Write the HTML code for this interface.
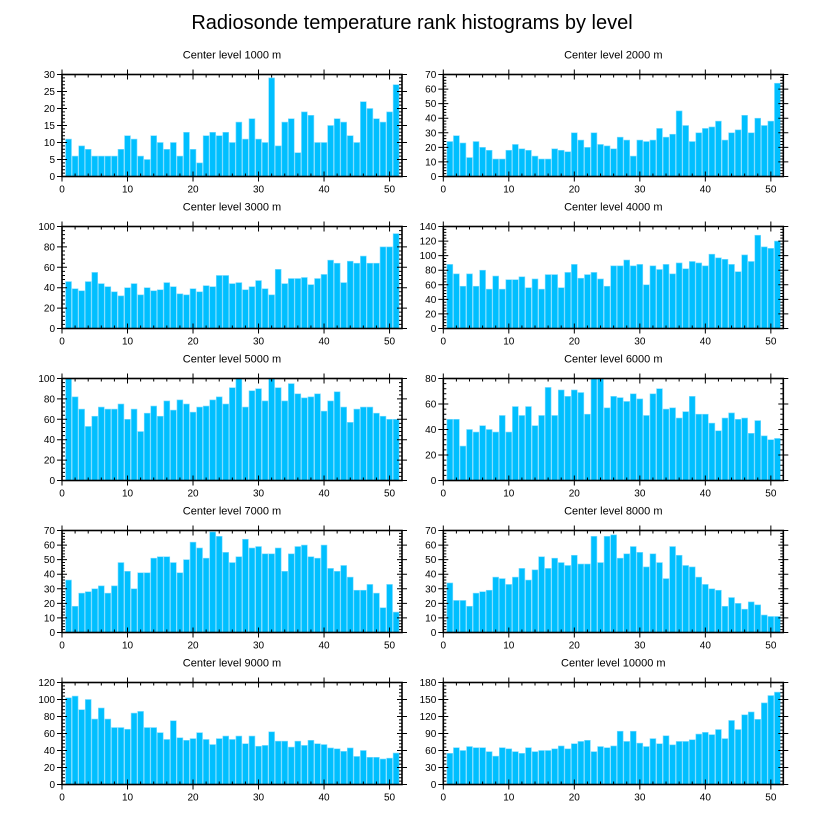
<!DOCTYPE html>
<html><head><meta charset="utf-8"><style>
body{margin:0;background:#fff;}
svg{display:block;font-family:"Liberation Sans",sans-serif;}
</style></head><body>
<svg id="chart" width="824" height="824"></svg>
<script>
const levels = ["1000","2000","3000","4000","5000","6000","7000","8000","9000","10000"];
const yMaxes = [30,70,100,140,100,80,70,70,120,180];
const ySteps = [5,10,20,20,20,20,10,10,20,30];
const xTicks = [0,10,20,30,40,50];
const h1000 = [11,6,9,8,6,6,6,6,8,12,11,6,5,12,10,8,10,6,13,8,4,12,13,12,13,10,16,11,17,11,10,29,9,16,17,7,19,18,10,10,15,17,16,12,10,22,20,17,16,19,27];
const h2000 = [24,28,23,13,24,20,18,12,12,18,22,19,18,14,12,12,19,18,17,30,25,20,30,22,21,19,27,25,14,25,24,25,33,27,29,45,35,24,30,33,34,38,25,30,32,42,30,40,35,38,64];
const h3000 = [46,39,37,46,55,44,41,36,32,40,44,33,40,37,38,45,41,34,33,39,36,42,41,52,52,44,45,38,41,47,39,33,58,44,49,49,50,43,49,53,67,64,45,66,64,71,64,64,80,80,93];
const h4000 = [88,75,58,75,58,80,54,72,54,67,67,71,56,68,54,74,74,56,77,88,69,74,77,68,58,86,86,94,86,88,60,86,81,88,75,90,82,92,90,86,102,97,95,88,78,101,92,128,112,110,120];
const h5000 = [100,82,70,53,63,72,70,70,75,60,70,48,66,73,63,78,69,79,75,67,72,73,79,82,75,91,100,72,88,90,78,100,91,78,95,85,81,82,85,68,78,87,72,57,70,72,72,66,63,60,60];
const h6000 = [48,48,27,40,38,43,40,38,51,38,58,51,58,43,51,73,51,71,66,71,69,52,80,80,57,66,65,62,68,64,51,68,72,56,57,49,54,66,52,52,45,39,49,53,48,49,37,47,35,32,33];
const h7000 = [36,18,27,28,30,32,27,32,48,42,30,41,41,51,52,52,48,41,50,62,58,51,69,66,55,48,52,64,58,59,54,54,58,42,54,59,60,52,51,60,44,42,46,38,29,29,33,27,17,33,14];
const h8000 = [34,22,22,18,27,28,29,38,37,33,38,44,36,43,52,44,51,48,46,53,47,47,66,48,66,67,51,54,59,55,45,54,48,37,59,53,46,45,38,33,30,29,18,24,20,16,21,19,12,11,11];
const h9000 = [102,104,88,100,77,90,77,67,67,65,84,86,67,67,61,53,75,55,52,54,61,53,47,54,57,53,57,48,57,45,46,62,51,51,44,51,46,52,48,47,43,42,39,43,33,40,32,32,30,31,37];
const h10000 = [55,65,60,67,65,65,58,50,65,63,58,55,65,58,60,60,63,68,63,72,76,78,58,67,65,68,94,76,94,73,67,81,72,86,70,76,76,79,89,92,88,97,81,113,97,123,128,115,144,157,163];
const series = [h1000,h2000,h3000,h4000,h5000,h6000,h7000,h8000,h9000,h10000];

const NS="http://www.w3.org/2000/svg";
const svg=document.getElementById('chart');
function mk(tag,attrs,parent){const e=document.createElementNS(NS,tag);for(const k in attrs)e.setAttribute(k,attrs[k]);(parent||svg).appendChild(e);return e;}

const title=mk('text',{x:412,y:29,'text-anchor':'middle','font-size':20,fill:'#000'});


title.textContent='Radiosonde temperature rank histograms by level';

const W=340,H=102,XMAX=51.9;
for(let p=0;p<10;p++){
  const col=p%2,row=Math.floor(p/2);
  const L=col?443.3:62, T=74.5+152*row;
  const ymax=yMaxes[p],ystep=ySteps[p],data=series[p];
  const g=mk('g',{});
  
  
  const xs=v=>L+v/XMAX*W, ys=v=>T+H-v/ymax*H;
  const t=mk('text',{x:L+W/2,y:T-16,'text-anchor':'middle','font-size':11,fill:'#000'},g);
  
  
  t.textContent='Center level '+levels[p]+' m';
  data.forEach((v,i)=>{
    const x=i+1;
    const r=mk('rect',{x:xs(x-0.45),y:ys(v),width:xs(x+0.45)-xs(x-0.45),height:ys(0)-ys(v),fill:'#00BFFF',stroke:'#7fdcff','stroke-width':0.6},g);
    
    
  });
  const fr=mk('rect',{x:L,y:T,width:W,height:H,fill:'none',stroke:'#000','stroke-width':1.6},g);
  
  
  let d='';
  for(let v=0;v<=XMAX;v+=2){const X=xs(v);
    if(v%10===0){d+=`M${X},${T+H+5}V${T+H-5}M${X},${T-5}V${T+5}`;}
    else{d+=`M${X},${T+H}V${T+H-3}M${X},${T}V${T+3}`;}}
  const ym=ystep/5;
  for(let k=0;k*ym<=ymax+1e-6;k++){const v=k*ym,Y=ys(v);
    if(k%5===0){d+=`M${L-5},${Y}H${L+5}M${L+W-5},${Y}H${L+W+5}`;}
    else{d+=`M${L},${Y}H${L+3}M${L+W},${Y}H${L+W-3}`;}}
  mk('path',{d:d,stroke:'#000','stroke-width':1,fill:'none'},g);
  xTicks.forEach(v=>{const tx=mk('text',{x:xs(v),y:T+H+16,'text-anchor':'middle','font-size':10,fill:'#000'},g);
    
    
    tx.textContent=v;});
  for(let v=0;v<=ymax;v+=ystep){const ty=mk('text',{x:L-7,y:ys(v)+3.5,'text-anchor':'end','font-size':10,fill:'#000'},g);
    
    
    ty.textContent=v;}
}
</script>
</body></html>
